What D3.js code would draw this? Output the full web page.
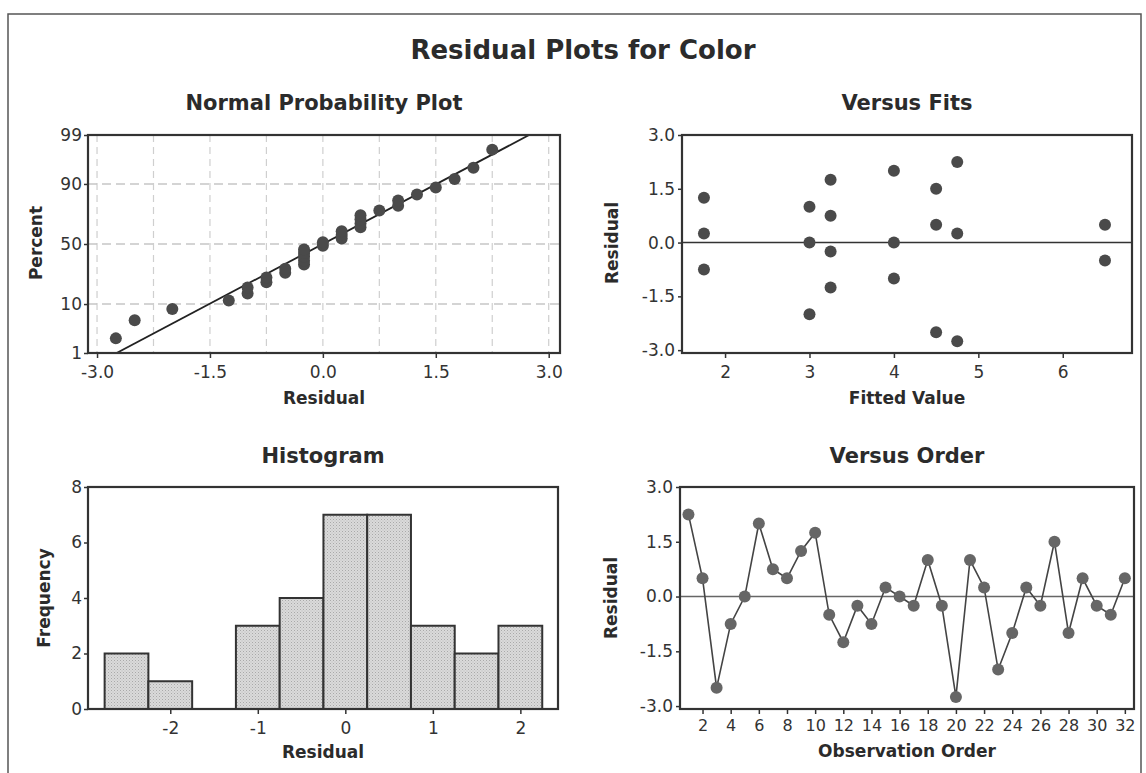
<!DOCTYPE html>
<html>
<head>
<meta charset="utf-8">
<script src="https://cdn.jsdelivr.net/npm/d3@7"></script>
<style>
  body { margin: 0; background: #fff; }
  svg text { font-family: "DejaVu Sans", sans-serif; fill: #333; }
</style>
</head>
<body>
<div id="chart"></div>
<script>
var obsOrder = [1,2,3,4,5,6,7,8,9,10,11,12,13,14,15,16,17,18,19,20,21,22,23,24,25,26,27,28,29,30,31,32];
var residuals = [2.25,0.5,-2.5,-0.75,0,2,0.75,0.5,1.25,1.75,-0.5,-1.25,-0.25,-0.75,0.25,0,
                 -0.25,1,-0.25,-2.75,1,0.25,-2,-1,0.25,-0.25,1.5,-1,0.5,-0.25,-0.5,0.5];

// versus fits (distinct points visible)
var fittedVals = [1.75,1.75,1.75, 3,3,3, 3.25,3.25,3.25,3.25, 4,4,4, 4.5,4.5,4.5, 4.75,4.75,4.75, 6.5,6.5];
var fittedRes  = [1.25,0.25,-0.75, 1,0,-2, 1.75,0.75,-0.25,-1.25, 2,0,-1, 1.5,0.5,-2.5, 2.25,0.25,-2.75, 0.5,-0.5];

// normal probability plot: sorted residual vs percent
var probRes = [-2.75,-2.5,-2,-1.25,-1,-1,-0.75,-0.75,-0.5,-0.5,-0.25,-0.25,-0.25,-0.25,-0.25,0,0,
               0.25,0.25,0.25,0.5,0.5,0.5,0.5,0.75,1,1,1.25,1.5,1.75,2,2.25];
var probPct = [2.2,5.2,8.3,11.4,14.5,17.6,20.7,23.8,26.9,29.9,33.0,36.1,39.2,42.3,45.4,48.5,51.5,
               54.6,57.7,60.8,63.9,67.0,70.1,73.1,76.2,79.3,82.4,85.5,88.6,91.7,94.8,97.8];
var lineRes = [-2.74, 2.74];
var linePct = [1, 99];

// histogram
var binMid = [-2.5,-2,-1.5,-1,-0.5,0,0.5,1,1.5,2];
var binCount = [2,1,0,3,4,7,7,3,2,3];

// tick labels
var pctTicks = [1,10,50,90,99];
var pctGrid = [10,50,90];
var npXTicks = [-3,-1.5,0,1.5,3];
var npXGrid = [-3,-2.25,-1.5,-0.75,0,0.75,1.5,2.25,3];
var resTicks = [-3,-1.5,0,1.5,3];
var fitTicks = [2,3,4,5,6];
var histXTicks = [-2,-1,0,1,2];
var histYTicks = [0,2,4,6,8];
var orderTicks = [2,4,6,8,10,12,14,16,18,20,22,24,26,28,30,32];

// inverse normal cdf (Acklam) for the probability scale
function probit(p) {
  var a = [-3.969683028665376e+01, 2.209460984245205e+02, -2.759285104469687e+02, 1.383577518672690e+02, -3.066479806614716e+01, 2.506628277459239e+00];
  var b = [-5.447609879822406e+01, 1.615858368580409e+02, -1.556989798598866e+02, 6.680131188771972e+01, -1.328068155288572e+01];
  var c = [-7.784894002430293e-03, -3.223964580411365e-01, -2.400758277161838e+00, -2.549732539343734e+00, 4.374664141464968e+00, 2.938163982698783e+00];
  var d = [7.784695709041462e-03, 3.224671290700398e-01, 2.445134137142996e+00, 3.754408661907416e+00];
  var q, r;
  if (p < 0.02425) {
    q = Math.sqrt(-2 * Math.log(p));
    return (((((c[0]*q+c[1])*q+c[2])*q+c[3])*q+c[4])*q+c[5]) / ((((d[0]*q+d[1])*q+d[2])*q+d[3])*q+1);
  }
  if (p > 1 - 0.02425) {
    q = Math.sqrt(-2 * Math.log(1 - p));
    return -(((((c[0]*q+c[1])*q+c[2])*q+c[3])*q+c[4])*q+c[5]) / ((((d[0]*q+d[1])*q+d[2])*q+d[3])*q+1);
  }
  q = p - 0.5; r = q * q;
  return (((((a[0]*r+a[1])*r+a[2])*r+a[3])*r+a[4])*r+a[5])*q / (((((b[0]*r+b[1])*r+b[2])*r+b[3])*r+b[4])*r+1);
}

var width = 1146, height = 773;
var fmt1 = function(d) { return d.toFixed(1); };
var dotR = 6;

var svg = d3.select('#chart').append('svg')
  .attr('width', width)
  .attr('height', height);

// stipple fill for histogram bars
var pat = svg.append('defs').append('pattern')
  .attr('id', 'stip').attr('width', 3).attr('height', 3)
  .attr('patternUnits', 'userSpaceOnUse');
pat.append('rect').attr('width', 3).attr('height', 3).attr('fill', '#dadada');
pat.append('rect').attr('width', 1).attr('height', 1).attr('fill', '#a9a9a9');
pat.append('rect').attr('x', 1.5).attr('y', 1.5).attr('width', 1).attr('height', 1).attr('fill', '#bdbdbd');

// outer border of the figure
svg.append('path')
  .attr('d', 'M8,790 L8,14 L1141,14 L1141,790')
  .attr('fill', 'none').attr('stroke', '#555').attr('stroke-width', 1.5);

svg.append('text')
  .attr('x', 583).attr('y', 59)
  .attr('text-anchor', 'middle')
  .style('font-size', '26px').style('font-weight', 'bold').style('fill', '#2b2b2b')
  .text('Residual Plots for Color');

function styleAxis(g) {
  g.select('.domain').remove();
  g.selectAll('.tick line').attr('stroke', '#333').attr('stroke-width', 1.5);
  g.selectAll('.tick text').style('font-size', '17px').attr('fill', '#333');
}

function panelText(x, y, txt, size) {
  svg.append('text')
    .attr('x', x).attr('y', y)
    .attr('text-anchor', 'middle')
    .style('font-size', size + 'px').style('font-weight', 'bold').style('fill', '#2b2b2b')
    .text(txt);
}

function yTitle(x, y, txt) {
  svg.append('text')
    .attr('transform', 'translate(' + x + ',' + y + ') rotate(-90)')
    .attr('text-anchor', 'middle')
    .style('font-size', '17px').style('font-weight', 'bold').style('fill', '#2b2b2b')
    .text(txt);
}

function frame(x0, x1, y0, y1) {
  svg.append('rect')
    .attr('x', x0).attr('y', y0)
    .attr('width', x1 - x0).attr('height', y1 - y0)
    .attr('fill', 'none').attr('stroke', '#333').attr('stroke-width', 2.2);
}

// ---------- Normal Probability Plot ----------
var npX = d3.scaleLinear().domain([-3.12, 3.15]).range([88, 560]);
var npY = d3.scaleLinear().domain([probit(0.01), probit(0.99)]).range([353, 135]);
var pctY = function(p) { return npY(probit(p / 100)); };

svg.append('clipPath').attr('id', 'npclip').append('rect')
  .attr('x', 88).attr('y', 135).attr('width', 472).attr('height', 218);

svg.append('g').selectAll('line.vg').data(npXGrid).enter().append('line')
  .attr('x1', function(d) { return npX(d); }).attr('x2', function(d) { return npX(d); })
  .attr('y1', 135).attr('y2', 353)
  .attr('stroke', '#cfcfcf').attr('stroke-width', 1.2).attr('stroke-dasharray', '7,5');
svg.append('g').selectAll('line.hg').data(pctGrid).enter().append('line')
  .attr('x1', 88).attr('x2', 560)
  .attr('y1', function(d) { return pctY(d); }).attr('y2', function(d) { return pctY(d); })
  .attr('stroke', '#c6c6c6').attr('stroke-width', 1.4).attr('stroke-dasharray', '9,5');

svg.append('g').attr('transform', 'translate(0,353)')
  .call(d3.axisBottom(npX).tickValues(npXTicks).tickFormat(fmt1).tickSize(5).tickPadding(8))
  .call(styleAxis);
svg.append('g').attr('transform', 'translate(88,0)')
  .call(d3.axisLeft(npY).tickValues(pctTicks.map(function(p) { return probit(p / 100); }))
    .tickFormat(function(d, i) { return pctTicks[i]; }).tickSize(4).tickPadding(2))
  .call(styleAxis);

svg.append('path')
  .datum(d3.zip(lineRes, linePct))
  .attr('clip-path', 'url(#npclip)')
  .attr('d', d3.line().x(function(d) { return npX(d[0]); }).y(function(d) { return pctY(d[1]); }))
  .attr('fill', 'none').attr('stroke', '#222').attr('stroke-width', 1.8);

svg.append('g').selectAll('circle').data(d3.zip(probRes, probPct)).enter().append('circle')
  .attr('cx', function(d) { return npX(d[0]); })
  .attr('cy', function(d) { return pctY(d[1]); })
  .attr('r', dotR).attr('fill', '#4a4a4a');

frame(88, 560, 135, 353);
panelText(324, 110, 'Normal Probability Plot', 21);
panelText(324, 404, 'Residual', 17);
yTitle(42, 243, 'Percent');

// ---------- Versus Fits ----------
var vfX = d3.scaleLinear().domain([1.49, 6.82]).range([682, 1132]);
var vfY = d3.scaleLinear().domain([-3.08, 3.0]).range([353, 135]);

svg.append('g').attr('transform', 'translate(0,353)')
  .call(d3.axisBottom(vfX).tickValues(fitTicks).tickFormat(d3.format('d')).tickSize(5).tickPadding(8))
  .call(styleAxis);
svg.append('g').attr('transform', 'translate(682,0)')
  .call(d3.axisLeft(vfY).tickValues(resTicks).tickFormat(fmt1).tickSize(4).tickPadding(3))
  .call(styleAxis);

svg.append('line')
  .attr('x1', 682).attr('x2', 1132).attr('y1', vfY(0)).attr('y2', vfY(0))
  .attr('stroke', '#333').attr('stroke-width', 1.5);

svg.append('g').selectAll('circle').data(d3.zip(fittedVals, fittedRes)).enter().append('circle')
  .attr('cx', function(d) { return vfX(d[0]); })
  .attr('cy', function(d) { return vfY(d[1]); })
  .attr('r', dotR).attr('fill', '#4a4a4a');

frame(682, 1132, 135, 353);
panelText(907, 110, 'Versus Fits', 21);
panelText(907, 404, 'Fitted Value', 17);
yTitle(618, 243, 'Residual');

// ---------- Histogram ----------
var hX = d3.scaleLinear().domain([-2.94, 2.43]).range([88, 558]);
var hY = d3.scaleLinear().domain([0, 8]).range([709, 487]);

svg.append('g').selectAll('rect').data(d3.zip(binMid, binCount).filter(function(d) { return d[1] > 0; }))
  .enter().append('rect')
  .attr('x', function(d) { return hX(d[0] - 0.25); })
  .attr('width', function(d) { return hX(d[0] + 0.25) - hX(d[0] - 0.25); })
  .attr('y', function(d) { return hY(d[1]); })
  .attr('height', function(d) { return hY(0) - hY(d[1]); })
  .attr('fill', 'url(#stip)').attr('stroke', '#333').attr('stroke-width', 2);

svg.append('g').attr('transform', 'translate(0,709)')
  .call(d3.axisBottom(hX).tickValues(histXTicks).tickFormat(d3.format('d')).tickSize(5).tickPadding(8))
  .call(styleAxis);
svg.selectAll('.tick text').each(function() {
  var t = d3.select(this); t.text(t.text().replace('\u2212', '-'));
});
svg.append('g').attr('transform', 'translate(88,0)')
  .call(d3.axisLeft(hY).tickValues(histYTicks).tickFormat(d3.format('d')).tickSize(4).tickPadding(2))
  .call(styleAxis);

frame(88, 558, 487, 709);
panelText(323, 463, 'Histogram', 21);
panelText(323, 758, 'Residual', 17);
yTitle(50, 598, 'Frequency');

// ---------- Versus Order ----------
var voX = d3.scaleLinear().domain([0.4, 32.65]).range([680, 1134]);
var voY = d3.scaleLinear().domain([-3.08, 3.0]).range([709, 487]);

svg.append('g').attr('transform', 'translate(0,709)')
  .call(d3.axisBottom(voX).tickValues(orderTicks).tickFormat(d3.format('d')).tickSize(5).tickPadding(6))
  .call(styleAxis)
  .selectAll('.tick text').style('font-size', '16px');
svg.append('g').attr('transform', 'translate(680,0)')
  .call(d3.axisLeft(voY).tickValues(resTicks).tickFormat(fmt1).tickSize(4).tickPadding(3))
  .call(styleAxis);

svg.append('line')
  .attr('x1', 680).attr('x2', 1134).attr('y1', voY(0)).attr('y2', voY(0))
  .attr('stroke', '#666').attr('stroke-width', 1.5);

var orderPts = d3.zip(obsOrder, residuals);
svg.append('path').datum(orderPts)
  .attr('d', d3.line().x(function(d) { return voX(d[0]); }).y(function(d) { return voY(d[1]); }))
  .attr('fill', 'none').attr('stroke', '#444').attr('stroke-width', 1.6);
svg.append('g').selectAll('circle').data(orderPts).enter().append('circle')
  .attr('cx', function(d) { return voX(d[0]); })
  .attr('cy', function(d) { return voY(d[1]); })
  .attr('r', dotR).attr('fill', '#666');

frame(680, 1134, 487, 709);
panelText(907, 463, 'Versus Order', 21);
panelText(907, 757, 'Observation Order', 17);
yTitle(617, 598, 'Residual');
</script>
</body>
</html>
